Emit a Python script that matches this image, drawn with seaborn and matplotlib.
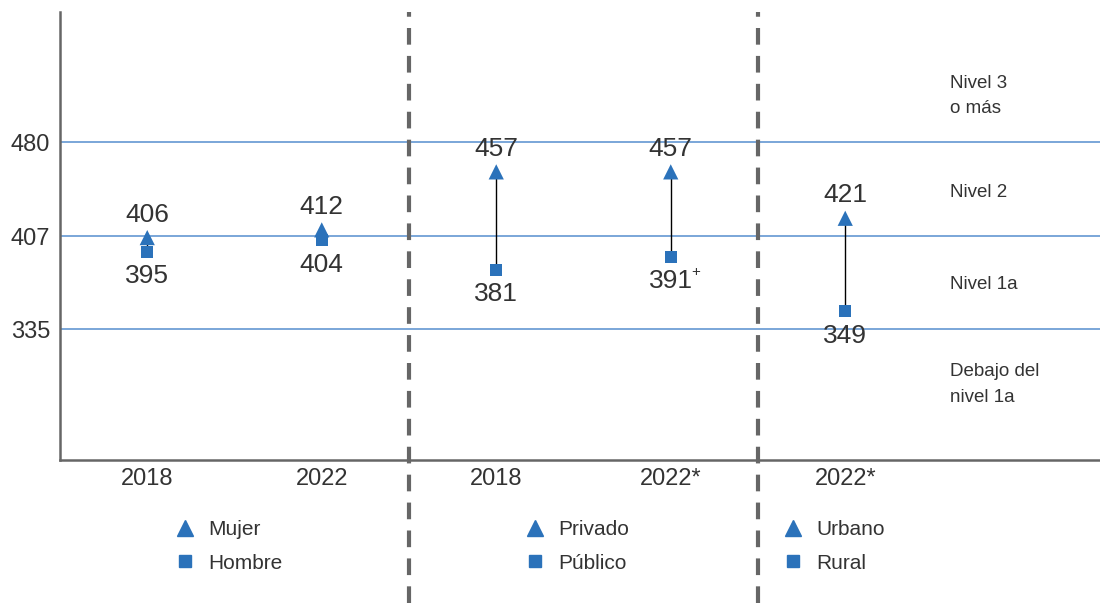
import numpy as np
import pandas as pd
import seaborn as sns
import matplotlib.pyplot as plt
from matplotlib.lines import Line2D

# data
categories = ["2018", "2022", "2018", "2022*", "2022*"]
high_scores = [406, 412, 457, 457, 421]   # Mujer / Privado / Urbano
low_scores = [395, 404, 381, 391, 349]    # Hombre / Público / Rural
low_marks = ["", "", "", "+", ""]
cut_points = [480, 407, 335]
level_names = ["Nivel 3\no más", "Nivel 2", "Nivel 1a", "Debajo del\nnivel 1a"]
level_mids = [516, 441, 370, 292]
legend_groups = [["Mujer", "Hombre"], ["Privado", "Público"], ["Urbano", "Rural"]]

blue = "#2b72ba"
line_blue = "#6f9fd6"
grey = "#666666"
text_col = "#333333"

sns.set_theme(style="white")
plt.rcParams["font.family"] = ["Liberation Sans", "DejaVu Sans"]

pos = np.arange(len(categories))
df = pd.DataFrame({"pos": np.concatenate([pos, pos]),
                   "score": high_scores + low_scores,
                   "kind": ["alto"] * len(pos) + ["bajo"] * len(pos)})

fig = plt.figure(figsize=(11, 6.03), dpi=100)
ax = fig.add_axes([60 / 1100, 1 - 460 / 603, 1 - 60 / 1100, (460 - 12) / 603])

for v in cut_points:
    ax.axhline(v, color=line_blue, lw=1.3, zorder=1)

ax.vlines(pos, low_scores, high_scores, color="black", lw=1.0, zorder=2)

sns.scatterplot(data=df[df["kind"] == "alto"], x="pos", y="score", marker="^",
                s=120, color=blue, edgecolor="none", ax=ax, zorder=3, legend=False)
sns.scatterplot(data=df[df["kind"] == "bajo"], x="pos", y="score", marker="s",
                s=80, color=blue, edgecolor="none", ax=ax, zorder=3, legend=False)

for x, hi, lo, mk in zip(pos, high_scores, low_scores, low_marks):
    ax.annotate(str(hi), (x, hi), xytext=(0, 8), textcoords="offset points",
                ha="center", va="bottom", fontsize=19, color=text_col)
    ax.annotate(str(lo), (x, lo), xytext=(0, -9), textcoords="offset points",
                ha="center", va="top", fontsize=19, color=text_col)
    if mk:
        ax.annotate(mk, (x, lo), xytext=(18, -6), textcoords="offset points",
                    ha="center", va="top", fontsize=11, color=text_col)

for name, y in zip(level_names, level_mids):
    ax.text(4.6, y, name, ha="left", va="center", fontsize=13.5, color=text_col,
            linespacing=1.65)

for xv in [1.5, 3.5]:
    ax.axvline(xv, ymin=-0.32, ymax=1.0, color=grey, lw=3, ls=(0, (4, 2.7)),
               clip_on=False, zorder=1)

ax.set_xlim(-0.5, 5.46)
ax.set_ylim(233.5, 581)
ax.set_xticks(pos)
ax.set_xticklabels(categories)
ax.set_yticks(cut_points)
ax.set_xlabel("")
ax.set_ylabel("")
ax.tick_params(axis="both", length=0, labelsize=17, colors=text_col)
ax.tick_params(axis="y", pad=7)
ax.tick_params(axis="x", pad=6)
for side in ["top", "right"]:
    ax.spines[side].set_visible(False)
for side in ["left", "bottom"]:
    ax.spines[side].set_color(grey)
    ax.spines[side].set_linewidth(1.8)

lx = [175, 525, 783]
for x0, labels in zip(lx, legend_groups):
    handles = [Line2D([], [], marker="^", ls="", color=blue, markersize=11),
               Line2D([], [], marker="s", ls="", color=blue, markersize=8)]
    fig.legend(handles, labels, loc="upper left",
               bbox_to_anchor=(x0 / 1100, 1 - 520 / 603), frameon=False,
               fontsize=15, handlelength=1.0, handletextpad=0.6,
               labelspacing=0.7, borderpad=0, borderaxespad=0,
               labelcolor=text_col)

fig.savefig("out.png", dpi=100)
